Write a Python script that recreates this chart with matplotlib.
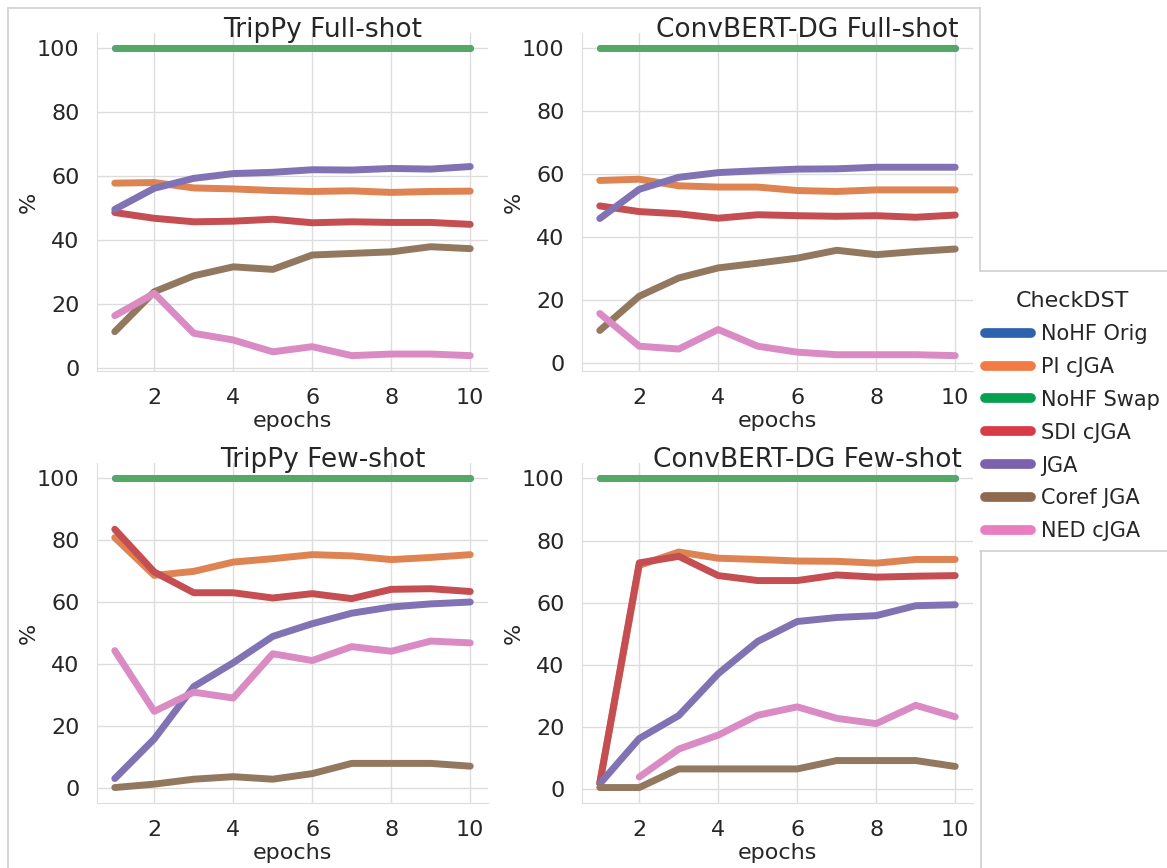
import numpy as np
import matplotlib
matplotlib.use("Agg")
import matplotlib.pyplot as plt
import seaborn as sns
from matplotlib.lines import Line2D

sns.set_style("whitegrid")
plt.rcParams['font.family'] = ['DejaVu Sans']

epochs = np.arange(1, 11)
series_names = ["NoHF Orig", "PI cJGA", "NoHF Swap", "SDI cJGA", "JGA", "Coref JGA", "NED cJGA"]
line_colors = ['#4C72B0', '#DD8452', '#55A868', '#C44E52', '#8172B3', '#937860', '#DA8BC3']
legend_colors = ['#2e62ad', '#f27a45', '#05a050', '#d83a48', '#7a62ae', '#8e6950', '#ea7cc0']

full_100 = [100] * 10

# TripPy Full-shot
tf_pi = [57.8, 58.0, 56.3, 56.0, 55.5, 55.2, 55.4, 54.9, 55.2, 55.3]
tf_sdi = [48.6, 46.8, 45.7, 45.9, 46.5, 45.4, 45.7, 45.5, 45.5, 44.9]
tf_jga = [49.6, 56.2, 59.3, 60.8, 61.2, 62.0, 61.9, 62.4, 62.2, 63.0]
tf_coref = [11.3, 23.8, 28.8, 31.6, 30.8, 35.3, 35.8, 36.3, 37.9, 37.3]
tf_ned = [16.3, 23.3, 10.8, 8.7, 5.0, 6.6, 3.8, 4.3, 4.3, 3.8]

# ConvBERT-DG Full-shot
cf_pi = [58.0, 58.4, 56.3, 55.9, 55.9, 54.8, 54.5, 55.0, 55.0, 55.0]
cf_sdi = [49.9, 48.1, 47.4, 46.0, 47.1, 46.8, 46.6, 46.8, 46.3, 47.0]
cf_jga = [45.9, 55.2, 59.0, 60.5, 61.1, 61.6, 61.7, 62.2, 62.2, 62.2]
cf_coref = [10.3, 21.2, 27.0, 30.2, 31.7, 33.3, 35.8, 34.4, 35.4, 36.2]
cf_ned = [15.7, 5.3, 4.4, 10.6, 5.3, 3.4, 2.6, 2.6, 2.6, 2.3]

# TripPy Few-shot
tw_pi = [80.9, 68.7, 70.0, 73.0, 74.1, 75.4, 75.0, 73.8, 74.5, 75.4]
tw_sdi = [83.6, 69.8, 63.1, 63.1, 61.4, 62.8, 61.2, 64.2, 64.4, 63.5]
tw_jga = [3.1, 15.9, 32.8, 40.5, 49.0, 53.1, 56.5, 58.5, 59.5, 60.1]
tw_coref = [0.2, 1.3, 2.9, 3.7, 2.9, 4.7, 8.0, 8.0, 8.0, 7.1]
tw_ned = [44.4, 24.8, 31.0, 29.1, 43.4, 41.2, 45.7, 44.2, 47.5, 46.9]

# ConvBERT-DG Few-shot
cw_pi = [1.8, 72.0, 76.3, 74.3, 73.9, 73.4, 73.3, 72.7, 73.9, 73.9]
cw_sdi = [1.8, 72.8, 74.9, 68.7, 67.1, 67.1, 68.9, 68.2, 68.5, 68.7]
cw_jga = [1.6, 16.2, 23.6, 37.1, 47.5, 53.9, 55.2, 55.8, 59.0, 59.3]
cw_coref = [0.4, 0.4, 6.4, 6.4, 6.4, 6.4, 9.1, 9.1, 9.1, 7.2]
cw_ned = [np.nan, 3.8, 12.8, 17.3, 23.7, 26.4, 22.7, 21.0, 26.9, 23.2]

panels = [
    ("TripPy Full-shot", [full_100, tf_pi, full_100, tf_sdi, tf_jga, tf_coref, tf_ned]),
    ("ConvBERT-DG Full-shot", [full_100, cf_pi, full_100, cf_sdi, cf_jga, cf_coref, cf_ned]),
    ("TripPy Few-shot", [full_100, tw_pi, full_100, tw_sdi, tw_jga, tw_coref, tw_ned]),
    ("ConvBERT-DG Few-shot", [full_100, cw_pi, full_100, cw_sdi, cw_jga, cw_coref, cw_ned]),
]

W, H = 1167, 868
fig = plt.figure(figsize=(W / 100, H / 100), dpi=100)

def px_axes(left, top, right, bottom):
    return fig.add_axes([left / W, 1 - bottom / H, (right - left) / W, (bottom - top) / H])

boxes = [(97, 33, 488, 371), (582, 33, 973, 371), (97, 463, 488, 803), (582, 463, 973, 803)]

for (title, values), box in zip(panels, boxes):
    ax = px_axes(*box)
    for name, vals, col in zip(series_names, values, line_colors):
        ax.plot(epochs, vals, color=col, lw=5, solid_capstyle='round',
                solid_joinstyle='round', label=name)
    ax.set_yticks([0, 20, 40, 60, 80, 100])
    ax.set_xticks([2, 4, 6, 8, 10])
    ax.tick_params(labelsize=16, colors='#262626', pad=9)
    ax.set_xlabel("epochs", fontsize=16, color='#262626', labelpad=2)
    ax.set_ylabel("%", fontsize=16, color='#262626', labelpad=-1)
    ax.set_title(title, fontsize=19, color='#262626', x=0.577, y=0.988, pad=0)
    ax.grid(color='#dddddd', lw=1)
    for s in ['top', 'right']:
        ax.spines[s].set_visible(False)
    for s in ['left', 'bottom']:
        ax.spines[s].set_color('#dddddd')

handles = [Line2D([], [], color=c, lw=7, solid_capstyle='round') for c in legend_colors]
leg = fig.legend(handles, series_names, title="CheckDST", loc='upper left',
                 bbox_to_anchor=(985 / W, 1 - 291 / H), frameon=False,
                 borderpad=0, borderaxespad=0,
                 fontsize=15, title_fontsize=16, handlelength=2.2,
                 handletextpad=0.5, labelspacing=0.62)
for t in leg.get_texts():
    t.set_color('#262626')
leg.get_title().set_color('#262626')

# outline of the notebook output area
border = '#d0d0d0'
segs = [((8, 8), (8, 868)), ((8, 980), (8, 8)), ((980, 980), (8, 271)),
        ((980, 1167), (271, 271)), ((980, 1167), (551, 551)), ((981, 981), (551, 868))]
for xs, ys in segs:
    fig.add_artist(Line2D([x / W for x in xs], [1 - y / H for y in ys],
                          color=border, lw=1.2, transform=fig.transFigure))

fig.savefig("out.png", dpi=100)
